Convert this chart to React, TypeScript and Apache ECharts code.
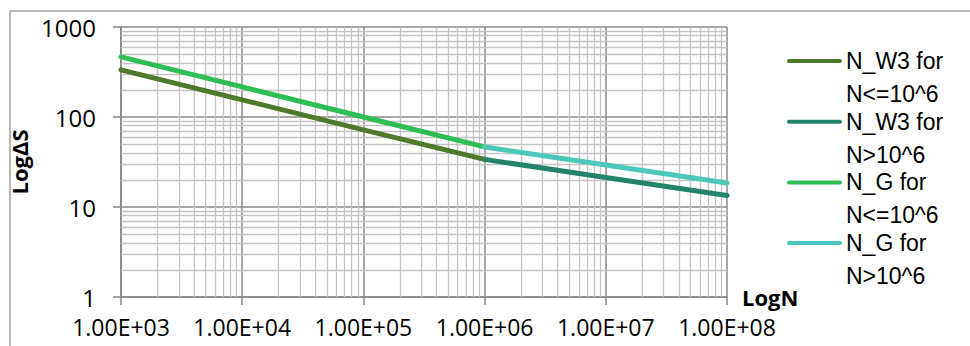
import React, { useEffect, useRef } from "react";
import * as echarts from "echarts";

// ---- data ----
const N_LOW = [1e3, 1e4, 1e5, 1e6];
const N_HIGH = [1e6, 1e7, 1e8];
const W3_LOW = [334, 155, 72, 33.8];
const W3_HIGH = [33.8, 21.3, 13.4];
const G_LOW = [465, 216, 100, 46.5];
const G_HIGH = [46.5, 29.3, 18.5];

const SERIES_NAMES = ["N_W3 for N<=10^6", "N_W3 for N>10^6", "N_G for N<=10^6", "N_G for N>10^6"];
const LEGEND_LINES = [
  ["N_W3 for", "N<=10^6"],
  ["N_W3 for", "N>10^6"],
  ["N_G for", "N<=10^6"],
  ["N_G for", "N>10^6"],
];
const COLORS = ["#4f7a2a", "#238469", "#2fbe55", "#4bc8ba"];

const X_TICKS = [1e3, 1e4, 1e5, 1e6, 1e7, 1e8];
const X_TICK_LABELS = ["1.00E+03", "1.00E+04", "1.00E+05", "1.00E+06", "1.00E+07", "1.00E+08"];
const Y_TICKS = [1, 10, 100, 1000];
const Y_TICK_LABELS = ["1", "10", "100", "1000"];

const FONT = "'Open Sans', 'Liberation Sans', sans-serif";
const LEGEND_FONT = "'Liberation Sans', 'Open Sans', sans-serif";

function minorPositions(ticks: number[]): number[] {
  const out: number[] = [];
  for (let i = 0; i < ticks.length - 1; i++) {
    for (let m = 2; m <= 9; m++) out.push(ticks[i] * m);
  }
  return out;
}

function lookupLabel(ticks: number[], labels: string[], v: number): string {
  for (let i = 0; i < ticks.length; i++) {
    if (Math.abs(Math.log10(v) - Math.log10(ticks[i])) < 1e-6) return labels[i];
  }
  return "";
}

export default function App() {
  const ref = useRef<HTMLDivElement>(null);

  useEffect(() => {
    if (!ref.current) return;
    const chart = echarts.init(ref.current, undefined, { renderer: "svg" });

    const zip = (xs: number[], ys: number[]) => xs.map((x, i) => [x, ys[i]]);
    const seriesData = [zip(N_LOW, W3_LOW), zip(N_HIGH, W3_HIGH), zip(N_LOW, G_LOW), zip(N_HIGH, G_HIGH)];

    const minorX = minorPositions(X_TICKS);
    const minorY = minorPositions(Y_TICKS);

    const legendGraphics: any[] = [];
    LEGEND_LINES.forEach((lines, i) => {
      const cy = 61 + i * 60.7;
      legendGraphics.push({
        type: "line",
        shape: { x1: 789, y1: cy, x2: 840, y2: cy },
        style: { stroke: COLORS[i], lineWidth: 4, lineCap: "round" },
      });
      lines.forEach((t, j) => {
        legendGraphics.push({
          type: "text",
          x: 846,
          y: cy + j * 33,
          style: {
            text: t,
            fontFamily: LEGEND_FONT,
            fontSize: 23,
            lineHeight: 24,
            fill: "#000",
            verticalAlign: "middle",
            align: "left",
          },
        });
      });
    });

    const option: any = {
      animation: false,
      backgroundColor: "#ffffff",
      textStyle: { fontFamily: FONT },
      grid: { left: 121, top: 27, width: 606, height: 270, containLabel: false },
      xAxis: {
        type: "log",
        logBase: 10,
        min: 1e3,
        max: 1e8,
        name: "LogN",
        nameLocation: "end",
        nameGap: 15,
        nameTextStyle: { fontFamily: FONT, fontSize: 22, fontWeight: "bold", color: "#000", verticalAlign: "middle" },
        axisLine: { show: true, lineStyle: { color: "#8a8a8a", width: 1.5 } },
        axisTick: { show: true, length: 8, lineStyle: { color: "#8a8a8a", width: 1.5 } },
        axisLabel: {
          fontFamily: FONT,
          fontSize: 23,
          color: "#000",
          margin: 18,
          formatter: (v: number) => lookupLabel(X_TICKS, X_TICK_LABELS, v),
        },
        splitLine: { show: true, lineStyle: { color: "#8a8a8a", width: 1.5 } },
      },
      yAxis: {
        type: "log",
        logBase: 10,
        min: 1,
        max: 1000,
        name: "Log\u0394S",
        nameLocation: "middle",
        nameRotate: 90,
        nameGap: 75,
        nameTextStyle: { fontFamily: FONT, fontSize: 22, fontWeight: "bold", color: "#000" },
        axisLine: { show: true, lineStyle: { color: "#8a8a8a", width: 1.5 } },
        axisTick: { show: true, length: 8, lineStyle: { color: "#8a8a8a", width: 1.5 } },
        axisLabel: {
          fontFamily: FONT,
          fontSize: 24,
          color: "#000",
          margin: 25,
          formatter: (v: number) => lookupLabel(Y_TICKS, Y_TICK_LABELS, v),
        },
        splitLine: { show: true, lineStyle: { color: "#8a8a8a", width: 1.5 } },
      },
      graphic: [
        {
          type: "rect",
          shape: { x: 10, y: 11, width: 1000, height: 400 },
          style: { fill: "none", stroke: "#a0a0a0", lineWidth: 1.5 },
          z: -10,
        },
        ...legendGraphics,
      ],
      series: [
        {
          name: "minor-grid",
          type: "line",
          data: [[1e3, 1]],
          showSymbol: false,
          symbol: "none",
          lineStyle: { opacity: 0 },
          silent: true,
          z: 1,
          markLine: {
            silent: true,
            symbol: ["none", "none"],
            label: { show: false },
            lineStyle: { color: "#c4c4c4", width: 1.3, type: "solid" },
            data: [
              ...minorX.map((v) => ({ xAxis: v })),
              ...minorY.map((v) => ({ yAxis: v })),
            ],
          },
        },
        ...seriesData.map((d, i) => ({
          name: SERIES_NAMES[i],
          type: "line",
          data: d,
          showSymbol: false,
          symbol: "none",
          z: 5,
          lineStyle: { color: COLORS[i], width: 5, cap: "round" },
          itemStyle: { color: COLORS[i] },
        })),
      ],
    };

    chart.setOption(option);
    return () => chart.dispose();
  }, []);

  return (
    <div
      ref={ref}
      style={{ position: "fixed", left: 0, top: 0, width: 970, height: 346, background: "#fff" }}
    />
  );
}
